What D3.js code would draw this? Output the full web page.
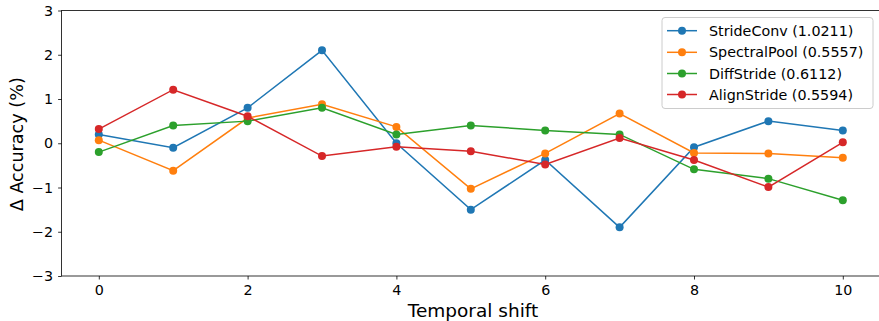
<!DOCTYPE html>
<html><head><meta charset="utf-8">
<script src="https://cdn.jsdelivr.net/npm/d3@7"></script>
<style>body{margin:0;background:#fff}svg{display:block;font-family:"DejaVu Sans",sans-serif}</style>
</head><body>
<svg id="chart" width="879" height="321"></svg>
<script>
const shifts = [0,1,2,3,4,5,6,7,8,9,10];
const seriesNames = ["StrideConv (1.0211)","SpectralPool (0.5557)","DiffStride (0.6112)","AlignStride (0.5594)"];
const strideConv   = [0.2,-0.1,0.8,2.1,0.0,-1.5,-0.38,-1.9,-0.09,0.5,0.29];
const spectralPool = [0.07,-0.62,0.57,0.88,0.37,-1.03,-0.23,0.67,-0.22,-0.23,-0.33];
const diffStride   = [-0.2,0.4,0.5,0.8,0.2,0.4,0.29,0.2,-0.59,-0.8,-1.29];
const alignStride  = [0.32,1.21,0.61,-0.29,-0.08,-0.18,-0.48,0.12,-0.38,-0.99,0.02];
const colors = ["#1f77b4","#ff7f0e","#2ca02c","#d62728"];
const xTicks = [0,2,4,6,8,10];
const yTicks = [-3,-2,-1,0,1,2,3];

const svg = d3.select("#chart");
const L = 61.6, R = 880, T = 10.5, B = 276;
const x = d3.scaleLinear().domain([-0.5,10.5]).range([L,R]);
const y = d3.scaleLinear().domain([-3,3]).range([B,T]);
const fmt = d => (d<0 ? "\u2212"+Math.abs(d) : String(d));

const gx = svg.append("g").attr("transform",`translate(0,${B})`)
  .call(d3.axisBottom(x).tickValues(xTicks).tickSize(3.5).tickPadding(5).tickFormat(fmt));
const gy = svg.append("g").attr("transform",`translate(${L},0)`)
  .call(d3.axisLeft(y).tickValues(yTicks).tickSize(3.5).tickPadding(5).tickFormat(fmt));
[gx,gy].forEach(g=>{
  g.select(".domain").remove();
  g.selectAll("text").attr("font-size","14.3px").attr("fill","#000").attr("font-family","DejaVu Sans");
  g.selectAll("line").attr("stroke","#000").attr("stroke-width",0.8);
});
// spines
svg.append("rect").attr("x",L).attr("y",T).attr("width",R-L).attr("height",B-T)
  .attr("fill","none").attr("stroke","#000").attr("stroke-width",0.8);

const all = [strideConv, spectralPool, diffStride, alignStride];
const line = d3.line().x((d,i)=>x(shifts[i])).y(d=>y(d));
all.forEach((vals,k)=>{
  svg.append("path").datum(vals).attr("d",line).attr("fill","none")
    .attr("stroke",colors[k]).attr("stroke-width",1.5);
  svg.append("g").selectAll("circle").data(vals).join("circle")
    .attr("cx",(d,i)=>x(shifts[i])).attr("cy",d=>y(d)).attr("r",4).attr("fill",colors[k]);
});

// axis labels
svg.append("text").attr("x",473).attr("y",316.5)
  .attr("text-anchor","middle").attr("font-size","18.5px").text("Temporal shift");
svg.append("text").attr("transform",`translate(23,${(T+B)/2+1}) rotate(-90)`)
  .attr("text-anchor","middle").attr("font-size","17.6px").text("\u0394 Accuracy (%)");

// legend
const lg = svg.append("g");
lg.append("rect").attr("x",662).attr("y",17.5).attr("width",211).attr("height",91)
  .attr("rx",3).attr("fill","#fff").attr("fill-opacity",0.8).attr("stroke","#ccc").attr("stroke-width",1);
const ly = [30.7,52.3,73.5,94.5];
seriesNames.forEach((n,k)=>{
  lg.append("line").attr("x1",667).attr("x2",697).attr("y1",ly[k]).attr("y2",ly[k])
    .attr("stroke",colors[k]).attr("stroke-width",1.5);
  lg.append("circle").attr("cx",682).attr("cy",ly[k]).attr("r",4).attr("fill",colors[k]);
  lg.append("text").attr("x",709).attr("y",ly[k]).attr("dy","0.35em")
    .attr("font-size","14.3px").text(n);
});
</script>
</body></html>
